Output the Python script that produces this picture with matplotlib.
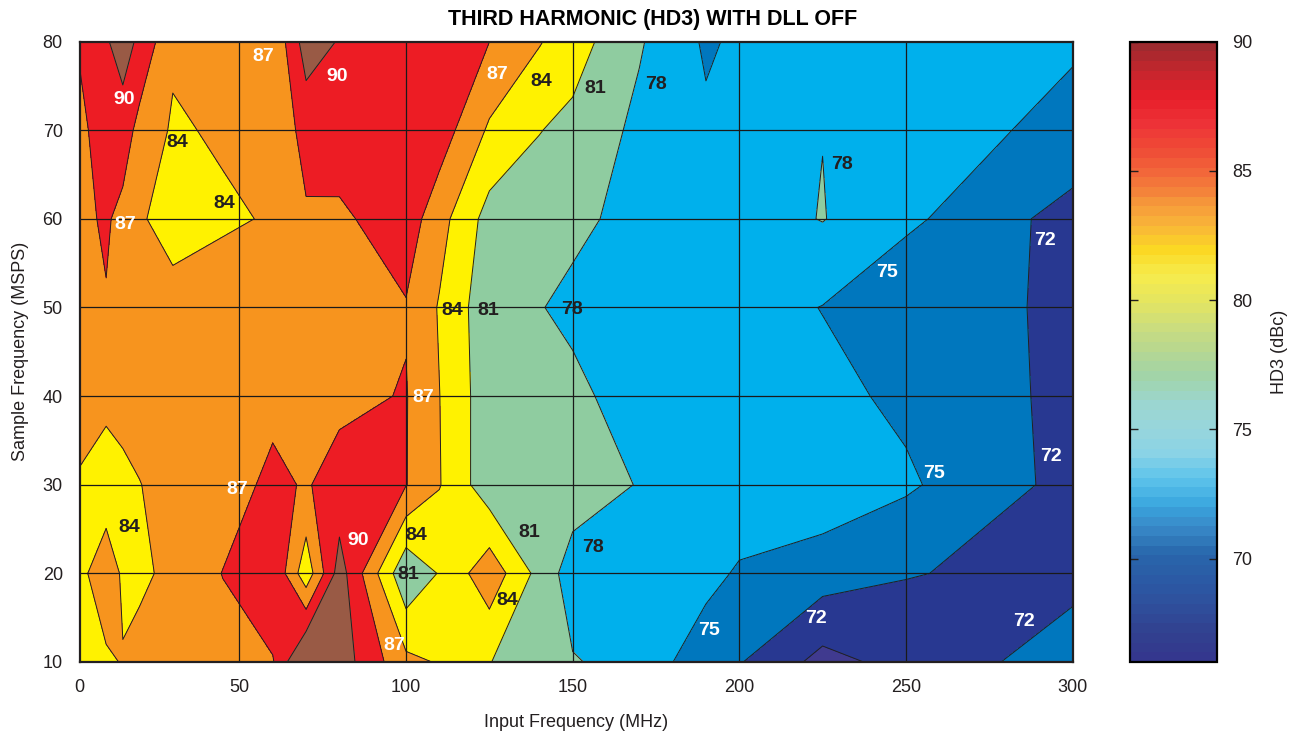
import numpy as np
import matplotlib
matplotlib.use('Agg')
import matplotlib.pyplot as plt
from matplotlib.colors import LinearSegmentedColormap, ListedColormap, Normalize
from matplotlib.cm import ScalarMappable

plt.rcParams['font.family'] = ['Liberation Sans', 'DejaVu Sans']

# ---------------- data ----------------
fin_mhz = [2.0, 10, 15, 20, 30, 45, 60, 70, 80, 100, 110, 125, 140, 150, 170, 190, 200, 225, 250, 300]
fs_msps = [10, 20, 30, 40, 50, 60, 70, 80]

hd3_fs10 = [82.8, 83.5, 84.17, 86.0, 86.0, 86.2, 86.75, 94.2, 91.6, 84.75, 83.78, 81.05, 79.98, 78.2, 76.95, 73.1, 72.2, 68.03, 70.0, 73.5]
hd3_fs20 = [83.1, 86.0, 83.5, 82.8, 85.5, 87.05, 89.9, 82.05, 91.4, 78.5, 81.2, 86.0, 80.0, 76.5, 76.3, 76.0, 74.6, 73.4, 72.15, 71.1]
hd3_fs30 = [83.75, 82.06, 82.96, 83.89, 85.5, 86.0, 87.5, 86.8, 87.98, 87.1, 84.16, 79.1, 79.5, 79.7, 77.83, 77.5, 77.3, 77.0, 75.44, 71.03]
hd3_fs40 = [85.0, 85.0, 85.5, 85.6, 85.8, 86.0, 86.44, 86.5, 86.4, 87.15, 84.05, 79.17, 79.0, 78.75, 76.5, 76.3, 76.2, 75.8, 74.4, 71.2]
hd3_fs50 = [85.5, 86.8, 86.0, 85.5, 84.63, 85.8, 86.0, 86.2, 86.4, 86.79, 83.76, 79.0, 78.14, 77.3, 76.8, 76.5, 76.3, 74.92, 72.4, 71.85]
hd3_fs60 = [86.26, 87.4, 86.07, 84.2, 83.3, 83.54, 84.27, 86.63, 86.47, 88.66, 85.13, 79.83, 79.3, 78.7, 77.0, 76.7, 76.6, 78.12, 75.65, 70.8]
hd3_fs70 = [86.25, 88.5, 88.65, 86.0, 83.64, 84.38, 84.6, 88.1, 88.6, 88.2, 88.6, 83.55, 81.1, 80.2, 77.3, 75.5, 76.0, 77.95, 76.3, 74.26]
hd3_fs80 = [87.3, 89.7, 91.3, 89.4, 84.5, 84.5, 84.3, 91.5, 89.8, 88.6, 87.8, 87.02, 84.2, 82.35, 78.3, 74.6, 75.5, 76.5, 76.5, 75.3]

contour_levels = [69, 72, 75, 78, 81, 84, 87, 90]

x_tick_values = [50, 100, 150, 200, 250, 300]
y_tick_values = [10, 20, 30, 40, 50, 60, 70, 80]
cbar_ticks = [70, 75, 80, 85, 90]

# contour labels (text, x, y)
label_text = ['90', '87', '90', '87', '84', '81', '78', '84', '84', '87', '78', '75', '72',
              '84', '81', '78', '87', '87', '75', '72', '84', '90', '84', '81', '78', '81',
              '84', '87', '75', '72', '72']
label_x = [15.4, 57.1, 79.3, 127.3, 140.5, 156.7, 175.0, 31.3, 45.4, 15.7, 230.8, 244.3, 291.7,
           113.8, 124.6, 149.8, 105.1, 49.3, 258.4, 293.5, 16.9, 85.6, 103.0, 136.9, 156.1, 100.6,
           130.3, 96.4, 190.9, 223.0, 285.4]
label_y = [73.5, 78.3, 76.1, 76.3, 75.5, 74.7, 75.2, 68.6, 61.7, 59.3, 66.1, 53.9, 57.6,
           49.7, 49.7, 49.8, 39.8, 29.5, 31.3, 33.2, 25.2, 23.7, 24.3, 24.6, 22.9, 19.9,
           16.9, 11.9, 13.6, 14.9, 14.6]

# ---------------- figure ----------------
W, H = 1306, 731
fig = plt.figure(figsize=(W / 100, H / 100), dpi=100)
ax = fig.add_axes([79.5 / W, 1 - 662 / H, (1072.5 - 79.5) / W, (662 - 41.5) / H])
cax = fig.add_axes([1129.5 / W, 1 - 662 / H, 87.5 / W, (662 - 41.5) / H])

Z = np.array([hd3_fs10, hd3_fs20, hd3_fs30, hd3_fs40, hd3_fs50, hd3_fs60, hd3_fs70, hd3_fs80])
Xg, Yg = np.meshgrid(fin_mhz, fs_msps)

fill_levels = [60] + contour_levels + [100]
fill_colors = ['#403a8f', '#283891', '#0077be', '#00b0ec', '#8fcca0',
               '#fff200', '#f7941e', '#ed1c24', '#995a45']
ax.contourf(Xg, Yg, Z, levels=fill_levels, colors=fill_colors, zorder=1)
ax.contour(Xg, Yg, Z, levels=contour_levels, colors='#231f20', linewidths=0.7, zorder=2)

label_color = {'90': 'white', '87': 'white', '75': 'white', '72': 'white',
               '84': '#231f20', '81': '#231f20', '78': '#231f20'}
for t, x, y in zip(label_text, label_x, label_y):
    ax.text(x, y, t, color=label_color[t], fontsize=14, fontweight='bold',
            ha='center', va='center', zorder=5)

ax.set_xlim(fin_mhz[0], 300)
ax.set_ylim(10, 80)
ax.set_xticks([fin_mhz[0]] + x_tick_values)
ax.set_xticklabels(['0'] + [str(v) for v in x_tick_values])
ax.set_yticks(y_tick_values)
ax.set_yticklabels([str(v) for v in y_tick_values])
ax.tick_params(axis='both', length=0, labelsize=13, colors='#231f20')
ax.tick_params(axis='x', pad=12)
ax.tick_params(axis='y', pad=12)
for x in x_tick_values[:-1]:
    ax.axvline(x, color='#1a1a1a', lw=0.9, zorder=3)
for y in y_tick_values[1:-1]:
    ax.axhline(y, color='#1a1a1a', lw=0.9, zorder=3)
for s in ax.spines.values():
    s.set_linewidth(1.6)
    s.set_color('#231f20')
    s.set_zorder(6)

ax.set_xlabel('Input Frequency (MHz)', fontsize=13, color='#231f20', labelpad=13)
ax.set_ylabel('Sample Frequency (MSPS)', fontsize=13, color='#231f20', labelpad=10)
fig.text(653 / W, 1 - 20 / H, 'THIRD HARMONIC (HD3) WITH DLL OFF', ha='center', va='center',
         fontsize=15.5, fontweight='bold', color='black')

# ---------------- colorbar ----------------
anchors = [(66, '#34378e'), (67, '#31418f'), (68, '#2f4f9c'), (69, '#2b5aa5'), (70, '#2866ab'),
           (71, '#3888c7'), (72, '#3aa7df'), (73, '#5cc3eb'), (74, '#8ad3e6'), (75, '#98d6dc'),
           (76, '#9bd6cf'), (77, '#a2d4a8'), (78, '#b5d692'), (79, '#cbdd7e'), (80, '#e4e560'),
           (81, '#f6ec4d'), (82, '#fbd824'), (83, '#f9b339'), (84, '#f5913a'), (85, '#f26a3a'),
           (86, '#ef4b36'), (87, '#ed3237'), (88, '#e81e2a'), (89, '#c6262d'), (90, '#9e2a2f')]
cmap_c = LinearSegmentedColormap.from_list(
    'hd3', [((v - 66) / 24, c) for v, c in anchors])
cmap_b = ListedColormap(cmap_c(np.linspace(0, 1, 64)))
sm = ScalarMappable(norm=Normalize(66, 90), cmap=cmap_b)
cb = fig.colorbar(sm, cax=cax)
cb.set_ticks(cbar_ticks)
cb.ax.tick_params(direction='in', length=6, width=1, left=True, right=True,
                  labelsize=13, pad=11, colors='#231f20')
cb.outline.set_linewidth(1.6)
cb.set_label('HD3 (dBc)', fontsize=13, color='#231f20', labelpad=13)

fig.savefig('out.png', dpi=100)
